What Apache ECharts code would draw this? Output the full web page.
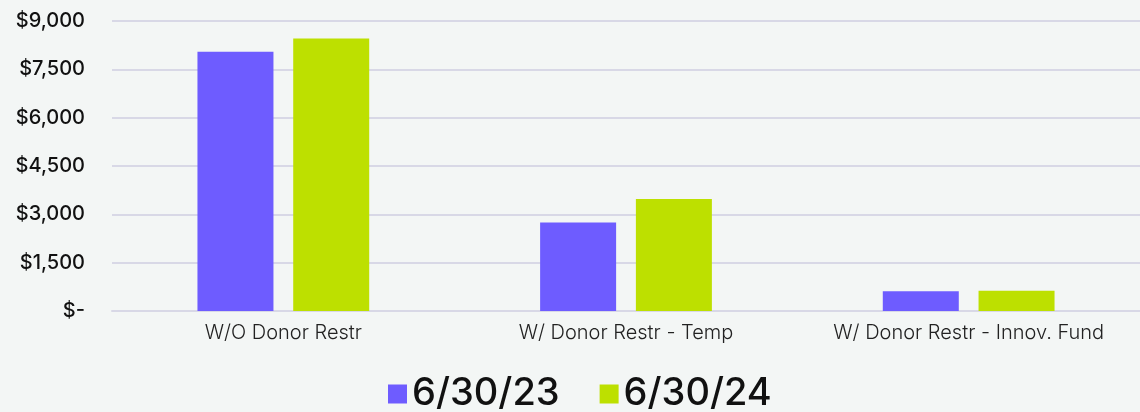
<!DOCTYPE html>
<html>
<head>
    <meta charset="utf-8">
    <title>Net Assets</title>
    <script src="https://cdn.jsdelivr.net/npm/echarts@6/dist/echarts.min.js"></script>
    <style>
        html, body { margin: 0; padding: 0; background: #f3f6f5; }
    </style>
</head>
<body>
    <div id="chart" style="width: 1140px;height:412px;"></div>

    <script>
        const categories = ['W/O Donor Restr', 'W/ Donor Restr - Temp', 'W/ Donor Restr - Innov. Fund']
        const seriesNames = ['6/30/23', '6/30/24']
        const fy23 = [8045, 2750, 610]
        const fy24 = [8460, 3475, 630]
        const colors = ['#6e5cff', '#bde000']

        const chart = echarts.init(document.getElementById('chart'))
        chart.setOption({
            backgroundColor: '#f3f6f5',
            animation: false,
            grid: { left: 112, right: 0, top: 21, bottom: 101 },
            legend: {
                bottom: -6,
                left: 383,
                icon: 'rect',
                itemWidth: 19,
                itemHeight: 19,
                itemGap: 40,
                textStyle: { fontFamily: 'Inter', fontSize: 38, fontWeight: 500, color: '#111' },
                data: seriesNames
            },
            xAxis: {
                type: 'category',
                data: categories,
                axisTick: { show: false },
                axisLine: { lineStyle: { color: '#d8d8e6', width: 2 } },
                axisLabel: { interval: 0, fontFamily: 'Inter', fontSize: 20, fontWeight: 300, color: '#222', margin: 12 }
            },
            yAxis: {
                type: 'value',
                min: 0,
                max: 9000,
                interval: 1500,
                axisLabel: {
                    fontFamily: 'Inter',
                    fontSize: 20,
                    fontWeight: 500,
                    color: '#111',
                    margin: 27,
                    formatter: v => v === 0 ? '$-' : '$' + v.toLocaleString('en-US')
                },
                splitLine: { lineStyle: { color: '#d8d8e6', width: 2 } }
            },
            series: [
                { name: seriesNames[0], type: 'bar', data: fy23, barWidth: 76, barGap: '26%', itemStyle: { color: colors[0] } },
                { name: seriesNames[1], type: 'bar', data: fy24, barWidth: 76, barGap: '26%', itemStyle: { color: colors[1] } }
            ]
        })
    </script>
</body>
</html>
